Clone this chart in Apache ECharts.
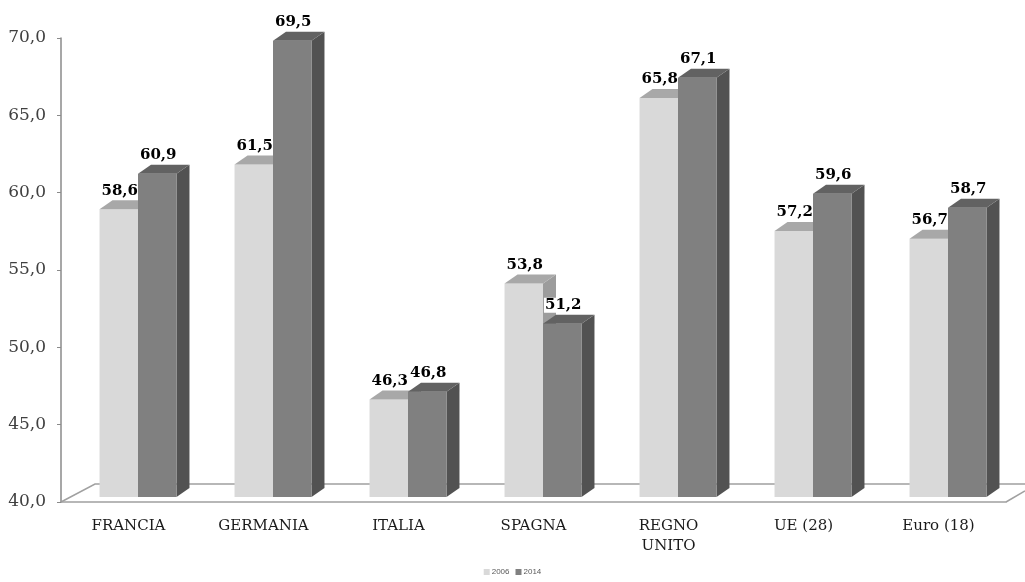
<!DOCTYPE html>
<html>
<head>
<meta charset="utf-8">
<script src="https://cdn.jsdelivr.net/npm/echarts@6/dist/echarts.min.js"></script>
<style>
  html, body { margin: 0; padding: 0; background: #fff; }
  #chart1 { width: 1025px; height: 582px; }
</style>
</head>
<body>
<div id="chart1"></div>
<script>
var categories = ['FRANCIA', 'GERMANIA', 'ITALIA', 'SPAGNA', 'REGNO\nUNITO', 'UE (28)', 'Euro (18)'];
var years = ['2006', '2014'];
var values2006 = [58.6, 61.5, 46.3, 53.8, 65.8, 57.2, 56.7];
var values2014 = [60.9, 69.5, 46.8, 51.2, 67.1, 59.6, 58.7];

// colori: fronte, sopra, lato
var faces = [
    {front: '#d9d9d9', top: '#a8a8a8', side: '#9c9c9c'},
    {front: '#808080', top: '#626262', side: '#525252'}
];

function fmt(v) {
    return v.toFixed(1).replace('.', ',');
}

function makeRender(idx) {
    return function (params, api) {
        var cat = api.value(0);
        var val = api.value(1);
        var top = api.coord([cat, val]);
        var base = api.coord([cat, 40]);
        var band = api.size([1, 0])[0];
        var bw = band * 0.285;
        var dx = 13, dy = -9, lift = 5;
        var cx = top[0] + 9.5;
        var x0 = idx === 0 ? cx - bw : cx;
        var x1 = x0 + bw;
        var yT = top[1] - lift;
        var yB = base[1] - lift;
        var f = faces[idx];
        return {
            type: 'group',
            children: [
                {type: 'polygon', shape: {points: [[x1, yT], [x1 + dx, yT + dy], [x1 + dx, yB + dy], [x1, yB]]},
                    style: {fill: f.side}},
                {type: 'rect', shape: {x: x0, y: yT, width: bw, height: yB - yT},
                    style: {fill: f.front}},
                {type: 'polygon', shape: {points: [[x0, yT], [x1, yT], [x1 + dx, yT + dy], [x0 + dx, yT + dy]]},
                    style: {fill: f.top}},
                {type: 'text', x: (x0 + x1) / 2 + 1, y: yT + dy - 2, z2: 10,
                    style: {text: fmt(val), textAlign: 'center', textVerticalAlign: 'bottom',
                        font: 'bold 15px "DejaVu Serif", serif', fill: '#000',
                        backgroundColor: '#fff', padding: [0, 1, 0, 1]}}
            ]
        };
    };
}

var data2006 = values2006.map(function (v, i) { return [i, v]; });
var data2014 = values2014.map(function (v, i) { return [i, v]; });

var myChart = echarts.init(document.getElementById('chart1'));
var option = {
    animation: false,
    grid: {left: 61, right: 19, top: 38, bottom: 80},
    legend: {
        bottom: 1,
        left: 'center',
        itemWidth: 6,
        itemHeight: 6,
        itemGap: 6,
        icon: 'rect',
        textStyle: {fontSize: 8, color: '#595959', fontFamily: 'Liberation Sans', padding: [0, 0, 0, -3]},
        data: years
    },
    xAxis: {
        type: 'category',
        data: categories,
        axisLine: {lineStyle: {color: '#a0a0a0', width: 1.5}},
        axisTick: {length: 5, lineStyle: {color: '#a0a0a0'}},
        axisLabel: {fontFamily: '"DejaVu Serif", serif', fontSize: 15, color: '#1a1a1a', margin: 14, lineHeight: 20}
    },
    yAxis: {
        type: 'value',
        min: 40,
        max: 70,
        interval: 5,
        splitLine: {show: false},
        axisLine: {show: true, lineStyle: {color: '#8a8a8a', width: 1.5}},
        axisTick: {show: true, length: 4, lineStyle: {color: '#8a8a8a'}},
        axisLabel: {formatter: fmt, fontFamily: '"DejaVu Serif", serif', fontSize: 17, color: '#404040', margin: 15}
    },
    graphic: [
        {type: 'polyline', shape: {points: [[61, 502], [95, 484], [1025, 484]]},
            style: {stroke: '#a0a0a0', lineWidth: 1.5, fill: null}, silent: true},
        {type: 'line', shape: {x1: 1006, y1: 502, x2: 1025, y2: 491},
            style: {stroke: '#a0a0a0', lineWidth: 1.5}, silent: true}
    ],
    series: [
        {name: years[0], type: 'custom', renderItem: makeRender(0), data: data2006,
            itemStyle: {color: faces[0].front}, encode: {x: 0, y: 1}, z: 2},
        {name: years[1], type: 'custom', renderItem: makeRender(1), data: data2014,
            itemStyle: {color: faces[1].front}, encode: {x: 0, y: 1}, z: 3}
    ]
};
myChart.setOption(option);
</script>
</body>
</html>
